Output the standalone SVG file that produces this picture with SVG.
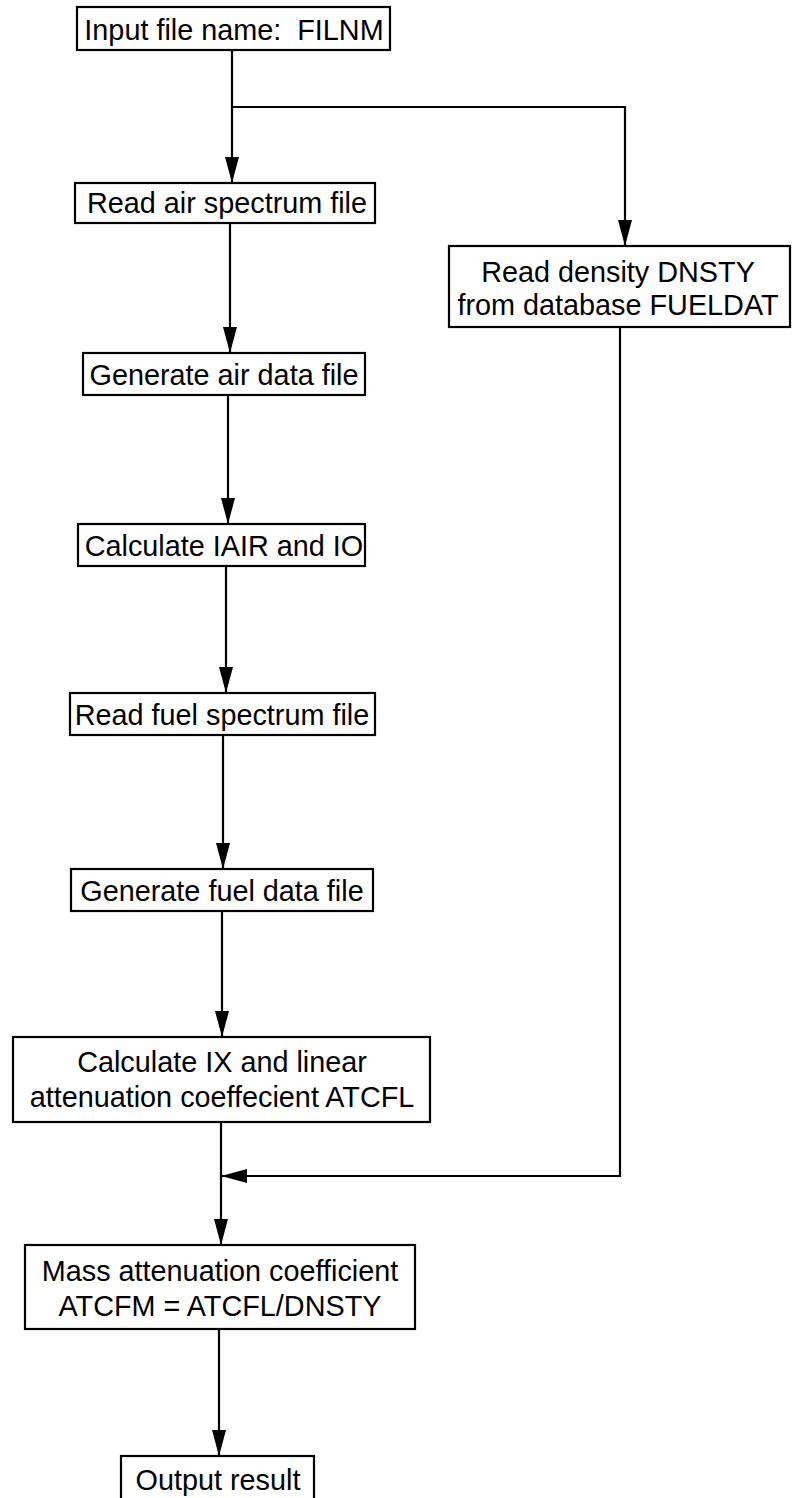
<svg xmlns="http://www.w3.org/2000/svg" width="793" height="1498" viewBox="0 0 793 1498">
<style>
.box{fill:#fff;stroke:#000;stroke-width:2.2}
.t{font-family:"Liberation Sans",Arial,Helvetica,sans-serif;font-size:28.8px;fill:#000;text-anchor:middle}
.c{fill:none;stroke:#000;stroke-width:2.2}
</style>
<defs>
<marker id="ah" viewBox="0 0 26 14" refX="26" refY="7" markerWidth="26" markerHeight="14" markerUnits="userSpaceOnUse" orient="auto">
<path d="M0,0 L26,7 L0,14 Z" fill="#000"/>
</marker>
</defs>
<rect width="793" height="1498" fill="#fff"/>
<g id="connectors">
<path class="c" d="M232,50 V183" marker-end="url(#ah)"/>
<path class="c" d="M232,107 H625 V246" marker-end="url(#ah)"/>
<path class="c" d="M230,223 V353" marker-end="url(#ah)"/>
<path class="c" d="M228,395 V524" marker-end="url(#ah)"/>
<path class="c" d="M226,566 V693" marker-end="url(#ah)"/>
<path class="c" d="M223,735 V869" marker-end="url(#ah)"/>
<path class="c" d="M222,911 V1037" marker-end="url(#ah)"/>
<path class="c" d="M221,1122 V1245" marker-end="url(#ah)"/>
<path class="c" d="M620,327 V1176 H221" marker-end="url(#ah)"/>
<path class="c" d="M219,1329 V1456" marker-end="url(#ah)"/>
</g>
<g id="n1"><rect class="box" x="77" y="7" width="313" height="43"/><text class="t" x="234" y="40" xml:space="preserve">Input file name:  FILNM</text></g>
<g id="n2"><rect class="box" x="75" y="183" width="300" height="40"/><text class="t" x="227" y="213">Read air spectrum file</text></g>
<g id="n3"><rect class="box" x="83" y="353" width="282" height="42"/><text class="t" x="224" y="385">Generate air data file</text></g>
<g id="n4"><rect class="box" x="78" y="524" width="287" height="42"/><text class="t" x="224" y="556">Calculate IAIR and IO</text></g>
<g id="n5"><rect class="box" x="70" y="693" width="305" height="42"/><text class="t" x="222" y="725">Read fuel spectrum file</text></g>
<g id="n6"><rect class="box" x="71" y="869" width="302" height="42"/><text class="t" x="222" y="901">Generate fuel data file</text></g>
<g id="n7"><rect class="box" x="13" y="1037" width="417" height="85"/><text class="t" x="222" y="1072">Calculate IX and linear</text><text class="t" x="222" y="1107">attenuation coeffecient ATCFL</text></g>
<g id="n8"><rect class="box" x="449" y="246" width="341" height="81"/><text class="t" x="618" y="282">Read density DNSTY</text><text class="t" x="618" y="315">from database FUELDAT</text></g>
<g id="n9"><rect class="box" x="25" y="1245" width="390" height="84"/><text class="t" x="220" y="1281">Mass attenuation coefficient</text><text class="t" x="220" y="1316">ATCFM = ATCFL/DNSTY</text></g>
<g id="n10"><rect class="box" x="121" y="1456" width="193" height="60"/><text class="t" x="218" y="1490">Output result</text></g>
</svg>
